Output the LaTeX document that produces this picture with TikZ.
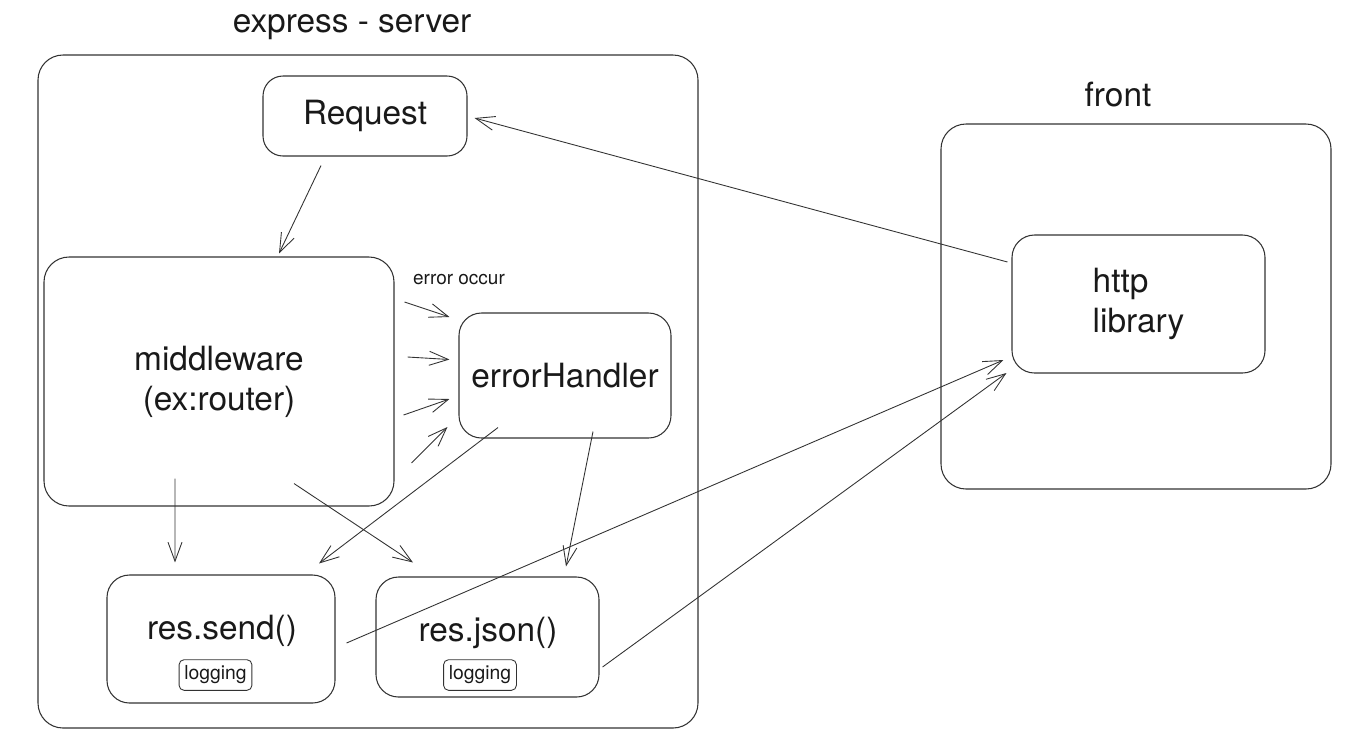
\documentclass[tikz,border=0pt]{standalone}
\usepackage{fontspec}
\setmainfont{TeX Gyre Heros}
\usetikzlibrary{arrows.meta}
\definecolor{line-gray}{RGB}{50,50,50}
\definecolor{ink}{RGB}{25,25,25}

\begin{document}
\begin{tikzpicture}[
    box/.style={draw=line-gray, line width=0.6pt, rounded corners=0.45cm,
        inner sep=0pt, text=ink, font=\fontsize{19}{22.8}\selectfont},
    tag/.style={draw=line-gray, line width=0.5pt, rounded corners=0.1cm,
        inner xsep=3pt, inner ysep=3.5pt, text=ink,
        font=\fontsize{11}{13}\selectfont},
    big/.style={text=ink, font=\fontsize{19}{22.8}\selectfont},
    small/.style={text=ink, font=\fontsize{10.8}{13}\selectfont},
    arr/.style={draw=line-gray, line width=0.5pt,
        -{Straight Barb[length=3.8mm,width=2.8mm]}}
]
\useasboundingbox (0,0) rectangle (27.26,-14.88);

% express - server
\node[big] (srvtitle) at (7.04,-0.54) {express - server};
\node[box, rounded corners=0.5cm, minimum width=13.2cm, minimum height=13.46cm]
    (srv) at (7.36,-7.83) {};

\node[box, rounded corners=0.4cm, minimum width=4.08cm, minimum height=1.6cm]
    (req) at (7.3,-2.32) {Request};
\node[box, rounded corners=0.5cm, minimum width=7.0cm, minimum height=4.98cm,
    align=center] (mw) at (4.38,-7.63) {middleware\\(ex:router)};
\node[box, minimum width=4.24cm, minimum height=2.5cm]
    (eh) at (11.3,-7.51) {errorHandler};
\node[small] (errlbl) at (9.18,-5.6) {error occur};

\node[box, minimum width=4.56cm, minimum height=2.56cm] (send) at (4.42,-12.78) {};
\node[big] (sendtxt) at (4.44,-12.62) {res.send()};
\node[tag] (sendlog) at (4.31,-13.5) {logging};

\node[box, minimum width=4.46cm, minimum height=2.4cm] (json) at (9.75,-12.74) {};
\node[big] (jsontxt) at (9.76,-12.66) {res.json()};
\node[tag] (jsonlog) at (9.6,-13.5) {logging};

% front
\node[big] (fronttitle) at (22.36,-1.9) {front};
\node[box, rounded corners=0.5cm, minimum width=7.8cm, minimum height=7.3cm]
    (front) at (22.72,-6.13) {};
\node[box, minimum width=5.06cm, minimum height=2.76cm, align=left]
    (http) at (22.77,-6.08) {http\\library};

% arrows
\draw[arr] ([shift={(-0.88,-0.18)}]req.south) -- ([shift={(1.2,0.06)}]mw.north);
\draw[arr] ([shift={(-0.08,0.84)}]http.west) -- ([shift={(0.14,-0.04)}]req.east);

\draw[arr] ([shift={(0.2,1.59)}]mw.east) -- ([shift={(-0.18,1.17)}]eh.west);
\draw[arr] ([shift={(0.26,0.49)}]mw.east) -- ([shift={(-0.18,0.32)}]eh.west);
\draw[arr] ([shift={(0.18,-0.67)}]mw.east) -- ([shift={(-0.18,-0.47)}]eh.west);
\draw[arr] ([shift={(0.34,-1.63)}]mw.east) -- ([shift={(-0.22,-1.03)}]eh.west);

\draw[arr] ([shift={(-0.88,0.56)}]mw.south) -- ([shift={(-0.92,0.24)}]send.north);
\draw[arr] ([shift={(1.5,0.46)}]mw.south) -- ([shift={(-1.49,0.28)}]json.north);
\draw[arr] ([shift={(-1.34,0.22)}]eh.south) -- ([shift={(1.96,0.22)}]send.north);
\draw[arr] ([shift={(0.56,0.14)}]eh.south) -- ([shift={(1.57,0.2)}]json.north);

\draw[arr] ([shift={(0.22,-0.08)}]send.east) -- ([shift={(-0.16,-1.12)}]http.west);
\draw[arr] ([shift={(0.06,-0.6)}]json.east) -- ([shift={(-0.1,-1.38)}]http.west);

\end{tikzpicture}
\end{document}
